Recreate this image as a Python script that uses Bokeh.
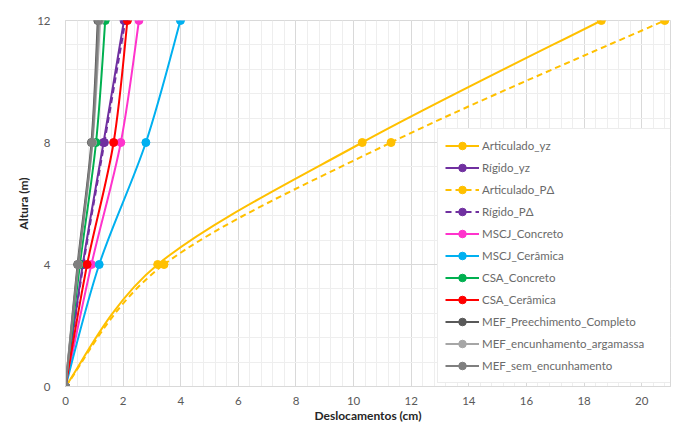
import numpy as np
from bokeh.plotting import figure
from bokeh.models import ColumnDataSource, Legend, LegendItem, FixedTicker, Range1d
from bokeh.embed import file_html
from bokeh.resources import INLINE

# ---- data ----
altura = [0, 4, 8, 12]
articulado_yz = [0, 3.2, 10.3, 18.6]
rigido_yz = [0, 0.6, 1.32, 2.03]
articulado_pd = [0, 3.42, 11.3, 20.8]
rigido_pd = [0, 0.62, 1.35, 2.08]
mscj_concreto = [0, 0.9, 1.92, 2.55]
mscj_ceramica = [0, 1.17, 2.79, 3.99]
csa_concreto = [0, 0.5, 1.06, 1.38]
csa_ceramica = [0, 0.75, 1.67, 2.15]
mef_preenchimento = [0, 0.42, 0.9, 1.12]
mef_argamassa = [0, 0.45, 0.94, 1.2]
mef_sem = [0, 0.44, 0.92, 1.15]

x_ticks = [0, 2, 4, 6, 8, 10, 12, 14, 16, 18, 20]
y_ticks = [0, 4, 8, 12]

series = [
    ("Articulado_yz", articulado_yz, "#FFC000", "solid"),
    ("Rígido_yz", rigido_yz, "#7030A0", "solid"),
    ("Articulado_PΔ", articulado_pd, "#FFC000", "6 4"),
    ("Rígido_PΔ", rigido_pd, "#7030A0", "6 4"),
    ("MSCJ_Concreto", mscj_concreto, "#FF33CC", "solid"),
    ("MSCJ_Cerâmica", mscj_ceramica, "#00B0F0", "solid"),
    ("CSA_Concreto", csa_concreto, "#00B050", "solid"),
    ("CSA_Cerâmica", csa_ceramica, "#FF0000", "solid"),
    ("MEF_Preechimento_Completo", mef_preenchimento, "#595959", "solid"),
    ("MEF_encunhamento_argamassa", mef_argamassa, "#A6A6A6", "solid"),
    ("MEF_sem_encunhamento", mef_sem, "#7F7F7F", "solid"),
]


def smooth_segments(xs, ys):
    """Catmull-Rom style bezier control points (like a spreadsheet's smoothed line)."""
    n = len(xs)
    d = dict(x0=[], y0=[], x1=[], y1=[], cx0=[], cy0=[], cx1=[], cy1=[])
    for i in range(n - 1):
        a = i - 1 if i > 0 else i
        b = i + 2 if i + 2 < n else i + 1
        d["x0"].append(xs[i]); d["y0"].append(ys[i])
        d["x1"].append(xs[i + 1]); d["y1"].append(ys[i + 1])
        d["cx0"].append(xs[i] + (xs[i + 1] - xs[a]) / 6)
        d["cy0"].append(ys[i] + (ys[i + 1] - ys[a]) / 6)
        d["cx1"].append(xs[i + 1] - (xs[b] - xs[i]) / 6)
        d["cy1"].append(ys[i + 1] - (ys[b] - ys[i]) / 6)
    return d


FONT = "Lato"

p = figure(width=675, height=425, output_backend="svg", toolbar_location=None,
           x_range=Range1d(0, 21), y_range=Range1d(0, 12),
           min_border_left=65, min_border_right=5, min_border_top=20, min_border_bottom=30)

p.background_fill_color = "white"
p.border_fill_color = "white"
p.outline_line_color = "#D9D9D9"

p.xaxis.ticker = FixedTicker(ticks=x_ticks, minor_ticks=list(np.arange(0, 21.01, 0.4)))
p.yaxis.ticker = FixedTicker(ticks=y_ticks, minor_ticks=list(np.arange(0, 12.01, 0.8)))

p.xgrid.grid_line_color = "#D9D9D9"
p.ygrid.grid_line_color = "#D9D9D9"
p.xgrid.minor_grid_line_color = "#EEEEEE"
p.ygrid.minor_grid_line_color = "#EEEEEE"

for ax in (p.xaxis, p.yaxis):
    ax.axis_line_color = "#D9D9D9"
    ax.major_tick_line_color = None
    ax.minor_tick_line_color = None
    ax.major_label_text_font = FONT
    ax.major_label_text_font_size = "11.5px"
    ax.major_label_text_color = "#595959"
    ax.axis_label_text_font = FONT
    ax.axis_label_text_font_size = "12px"
    ax.axis_label_text_font_style = "bold"
    ax.axis_label_text_color = "#262626"

p.xaxis.axis_label = "Deslocamentos (cm)"
p.yaxis.axis_label = "Altura (m)"
p.xaxis.major_label_standoff = 4
p.xaxis.axis_label_standoff = 0
p.yaxis.major_label_standoff = 9
p.yaxis.axis_label_standoff = 3

items = []
for label, xs, color, dash in series:
    seg = ColumnDataSource(smooth_segments(xs, altura))
    p.bezier(x0="x0", y0="y0", x1="x1", y1="y1", cx0="cx0", cy0="cy0", cx1="cx1", cy1="cy1",
             source=seg, line_color=color, line_width=2, line_dash=dash)
    src = ColumnDataSource(dict(x=xs, y=altura))
    r_line = p.line("x", "y", source=src, line_color=color, line_width=2, line_dash=dash, visible=False)
    r_pts = p.scatter("x", "y", source=src, size=8, marker="circle",
                      fill_color=color, line_color=color)
    items.append(LegendItem(label=label, renderers=[r_line, r_pts]))

legend = Legend(items=items, location=(372, 3), margin=0, padding=7,
                spacing=3, glyph_width=34, glyph_height=19, label_height=19,
                label_standoff=3, label_width=183,
                label_text_font=FONT, label_text_font_size="11.5px",
                label_text_color="#6A6A6A",
                border_line_color="#D9D9D9", background_fill_color="white",
                background_fill_alpha=1)
p.add_layout(legend, "center")

open("out.html", "w").write(file_html(p, INLINE))
